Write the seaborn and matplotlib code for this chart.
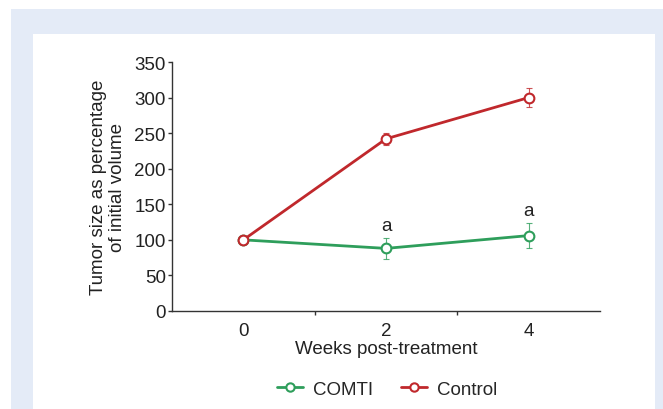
import matplotlib
matplotlib.use("Agg")
import matplotlib.pyplot as plt
from matplotlib.patches import Rectangle
from matplotlib.lines import Line2D
import seaborn as sns
import pandas as pd

weeks = [0, 2, 4]
comti = [100, 88, 106]
comti_err = [0, 15, 18]
control = [100, 242, 300]
control_err = [0, 8, 13]
groups = ["COMTI", "Control"]
colors = {"COMTI": "#2e9e5b", "Control": "#c0282c"}
y_ticks = [0, 50, 100, 150, 200, 250, 300, 350]
x_ticks = [0, 2, 4]
x_minor = [1, 3]
sig_labels = ["", "a", "a"]

sns.set_theme(style="white")
plt.rcParams["font.family"] = ["Liberation Sans", "DejaVu Sans"]
FS = 13.5

df = pd.DataFrame({
    "week": weeks * 2,
    "value": comti + control,
    "err": comti_err + control_err,
    "group": ["COMTI"] * 3 + ["Control"] * 3,
})

fig = plt.figure(figsize=(6.63, 4.10), dpi=100)
fig.patch.set_facecolor("white")
fig.patches.append(Rectangle((11 / 663, 0), 1, 1 - 10 / 410, transform=fig.transFigure,
                             facecolor="#e4ebf7", edgecolor="none", zorder=-10))
fig.patches.append(Rectangle((33 / 663, 0), (655 - 33) / 663, 1 - 35 / 410, transform=fig.transFigure,
                             facecolor="white", edgecolor="none", zorder=-9))

ax = fig.add_axes([172 / 663, 1 - 312 / 410, (600 - 172) / 663, (312 - 63) / 410])
ax.set_zorder(5)
ax.set_facecolor("none")

sns.lineplot(data=df, x="week", y="value", hue="group", palette=colors,
             hue_order=groups, marker="o", markersize=7, markerfacecolor="white",
             markeredgewidth=1.5, linewidth=2, legend=False, ax=ax, zorder=3)
for line, g in zip(list(ax.get_lines()), groups):
    line.set_markeredgecolor(colors[g])
    line.set_markerfacecolor("white")

for g in groups:
    sub = df[df["group"] == g]
    ax.errorbar(sub["week"], sub["value"], yerr=sub["err"], fmt="none",
                ecolor=colors[g], elinewidth=0.8, capsize=2, capthick=0.8, zorder=2, alpha=0.8)

for w, v, e, s in zip(weeks, comti, comti_err, sig_labels):
    if s:
        ax.text(w, v + e + 5, s, ha="center", va="bottom", fontsize=FS, color="#222222")

ax.set_xlim(-1, 5)
ax.set_ylim(0, 350)
ax.set_yticks(y_ticks)
ax.set_xticks(x_ticks)
ax.set_xticks(x_minor, minor=True)
ax.tick_params(axis="x", which="major", length=0, labelsize=FS, pad=8, colors="#222222")
ax.tick_params(axis="x", which="minor", length=3, width=1, color="#333333", direction="out", bottom=True)
ax.tick_params(axis="y", which="major", length=3, width=1, color="#333333", labelsize=FS,
               pad=1.5, direction="out", left=True, labelcolor="#222222")
sns.despine(ax=ax)
for sp in ("left", "bottom"):
    ax.spines[sp].set_color("#333333")
    ax.spines[sp].set_linewidth(1)

ax.set_xlabel("Weeks post-treatment", fontsize=FS, labelpad=1, color="#222222")
ax.set_ylabel("Tumor size as percentage\nof initial volume", fontsize=FS, labelpad=6,
              color="#222222", linespacing=1.15)

handles = [Line2D([0], [0], color=colors[g], lw=2, marker="o", markersize=6,
                  markerfacecolor="white", markeredgecolor=colors[g], markeredgewidth=1.5)
           for g in groups]
fig.legend(handles, groups, loc="center", bbox_to_anchor=(387 / 663, 1 - 390 / 410),
           ncol=2, frameon=False, fontsize=FS, handlelength=1.4, columnspacing=1.5,
           handletextpad=0.5)

fig.savefig("out.png", dpi=100)
